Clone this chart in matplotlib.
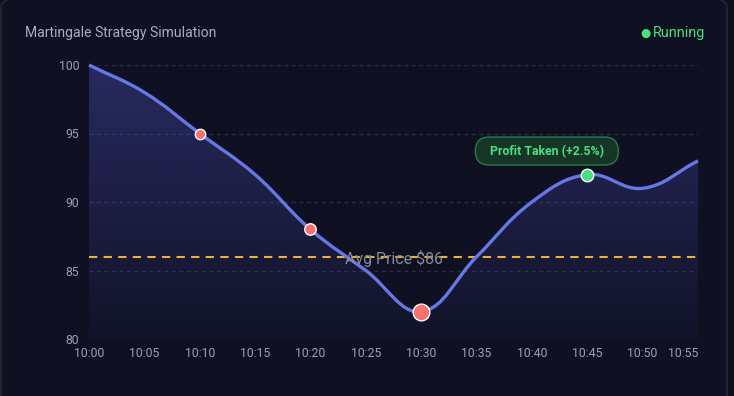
import numpy as np
import matplotlib.pyplot as plt
from matplotlib.path import Path
from matplotlib.patches import PathPatch, FancyBboxPatch
from matplotlib.transforms import ScaledTranslation

plt.rcParams['font.family'] = ['Roboto', 'DejaVu Sans']

# data
times = ['10:00', '10:05', '10:10', '10:15', '10:20', '10:25',
         '10:30', '10:35', '10:40', '10:45', '10:50', '10:55']
prices = [100, 98, 95, 92, 88, 85, 82, 86, 90, 92, 91, 93]
buy_idx = [2, 4, 6]           # martingale entries
buy_sizes = [5, 5.5, 8]      # marker radius in px
sell_idx = 9
avg_price = 86
yticks = [80, 85, 90, 95, 100]

BG = '#0f1123'
W, H = 734, 396
fig = plt.figure(figsize=(W / 100, H / 100), dpi=100)
fig.patch.set_facecolor('#0c0e1a')

card = FancyBboxPatch((1 / W, -10 / H), 726 / W, 408 / H,
                      boxstyle='round,pad=0,rounding_size=0.025',
                      transform=fig.transFigure, facecolor=BG,
                      edgecolor='#252838', linewidth=1.2, zorder=-5)
fig.patches.append(card)

ax = fig.add_axes([89 / W, 1 - 339 / H, (698 - 89) / W, (339 - 65) / H])
ax.set_facecolor('none')
x = np.arange(len(prices))
ax.set_xlim(0, len(prices) - 1)
ax.set_ylim(80, 100)

# chart.js style bezier curve (tension 0.4), weights from pixel distances
fig.canvas.draw()
pts = np.column_stack([x, prices]).astype(float)
pix = ax.transData.transform(pts)
n = len(pts)
cp_prev = pts.copy()
cp_next = pts.copy()
t = 0.4
for i in range(n):
    p0 = pts[max(i - 1, 0)]
    p2 = pts[min(i + 1, n - 1)]
    d01 = np.hypot(*(pix[i] - pix[max(i - 1, 0)]))
    d12 = np.hypot(*(pix[min(i + 1, n - 1)] - pix[i]))
    tot = d01 + d12
    s01 = d01 / tot if tot else 0
    s12 = d12 / tot if tot else 0
    cp_prev[i] = pts[i] - t * s01 * (p2 - p0)
    cp_next[i] = pts[i] + t * s12 * (p2 - p0)

verts = [pts[0]]
codes = [Path.MOVETO]
for i in range(n - 1):
    verts += [cp_next[i], cp_prev[i + 1], pts[i + 1]]
    codes += [Path.CURVE4] * 3
line_path = Path(verts, codes)

fill_verts = verts + [(x[-1], 80), (x[0], 80), pts[0]]
fill_codes = codes + [Path.LINETO, Path.LINETO, Path.CLOSEPOLY]
fill_patch = PathPatch(Path(fill_verts, fill_codes), facecolor='none', edgecolor='none')
ax.add_patch(fill_patch)

grad = np.zeros((100, 1, 4))
grad[:, 0, 0] = 99 / 255
grad[:, 0, 1] = 102 / 255
grad[:, 0, 2] = 241 / 255
grad[:, 0, 3] = np.linspace(0.30, 0.03, 100)
img = ax.imshow(grad, extent=[0, n - 1, 80, 100.5], aspect='auto',
                origin='upper', zorder=1)
img.set_clip_path(fill_patch)
ax.set_xlim(0, n - 1)
ax.set_ylim(80, 100)

# grid
for yv in yticks:
    ax.axhline(yv, color='#2a2d45', linewidth=0.9, dashes=(3, 3), zorder=0)

ax.add_patch(PathPatch(line_path, facecolor='none', edgecolor='#6677e6',
                       linewidth=2.4, zorder=3, clip_on=False))

# average price
ax.axhline(avg_price, color='#e8b33a', linewidth=1.5, dashes=(4, 3), zorder=2)
ax.text((n - 1) / 2, avg_price - 0.1, f'Avg Price ${avg_price}', color='#868b97',
        fontsize=11.4, ha='center', va='center', zorder=4)

# markers
for i, r in zip(buy_idx, buy_sizes):
    ax.plot(x[i], prices[i], 'o', markersize=r * 2 * 0.75, color='#f87171',
            markeredgecolor='white', markeredgewidth=1.0, zorder=5)
ax.plot(x[sell_idx], prices[sell_idx], 'o', markersize=9, color='#4ade80',
        markeredgecolor='white', markeredgewidth=1.0, zorder=5)

# profit label box (pixel-sized pill anchored at a data position)
lx, ly = x[sell_idx] - 0.73, prices[sell_idx] + 1.72
pill_tr = fig.dpi_scale_trans + ScaledTranslation(lx, ly, ax.transData)
ax.add_patch(FancyBboxPatch((-0.715, -0.14), 1.43, 0.28,
                            boxstyle='round,pad=0,rounding_size=0.14',
                            transform=pill_tr, facecolor='#173526',
                            edgecolor='#2b7a47', linewidth=1, zorder=6,
                            clip_on=False))
ax.text(lx, ly, 'Profit Taken (+2.5%)', color='#4ade80', fontsize=8.9,
        fontweight='bold', ha='center', va='center', zorder=7)

# axes
ax.set_xticks(x)
ax.set_xticklabels(times)
ax.set_yticks(yticks)
for s in ax.spines.values():
    s.set_visible(False)
ax.tick_params(length=0, colors='#9aa0b4', labelsize=8.8)
ax.tick_params(axis='x', pad=6)
ax.tick_params(axis='y', pad=7)
labels = ax.get_xticklabels()
labels[-1].set_horizontalalignment('right')
labels[-1].set_x(x[-1])

fig.text(25 / W, 1 - 33 / H, 'Martingale Strategy Simulation', color='#a6adc0',
         fontsize=10.1, ha='left', va='center')
fig.text(653 / W, 1 - 33 / H, 'Running', color='#4ade80', fontsize=10.4,
         ha='left', va='center')
fig.text(645 / W, 1 - 33 / H, '●', color='#4ade80', fontsize=8.5,
         ha='center', va='center', family='DejaVu Sans')

fig.savefig('out.png', dpi=100, facecolor=fig.get_facecolor())
